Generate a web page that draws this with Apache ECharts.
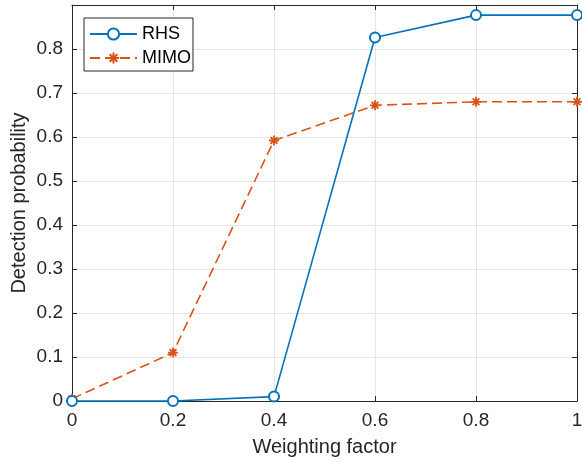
<!DOCTYPE html>
<html><head><meta charset="utf-8">
<script src="https://cdn.jsdelivr.net/npm/echarts@6/dist/echarts.min.js"></script>
<style>html,body{margin:0;padding:0;background:#fff}#c{width:582px;height:461px}</style>
</head><body><div id="c"></div>
<script>
const xValues = [0, 0.2, 0.4, 0.6, 0.8, 1];
const rhs = [0, 0, 0.01, 0.826, 0.877, 0.877];
const mimo = [0.005, 0.11, 0.592, 0.672, 0.680, 0.680];
const xTicks = [0, 0.2, 0.4, 0.6, 0.8, 1];
const yTicks = [0, 0.1, 0.2, 0.3, 0.4, 0.5, 0.6, 0.7, 0.8];

const font = '"Liberation Sans", Arial, Helvetica, sans-serif';
const axisCol = '#262626';
const asterisk = 'path://M0 5 L10 5 M5 0 L5 10 M1.6 1.6 L8.4 8.4 M8.4 1.6 L1.6 8.4';

const chart = echarts.init(document.getElementById('c'), null, {renderer: 'canvas'});
const fmtX = v => (Math.abs(v) < 1e-9 ? '0' : (Math.abs(v - 1) < 1e-9 ? '1' : String(+v.toFixed(1))));
const fmtY = v => (v > 0.85 ? '' : (Math.abs(v) < 1e-9 ? '0' : String(+v.toFixed(1))));
const tick = {show: true, inside: true, length: 5, lineStyle: {color: axisCol}};
const line = {show: true, onZero: false, lineStyle: {color: axisCol, width: 1}};
chart.setOption({
  animation: false,
  grid: {left: 72, right: 5, top: 5, bottom: 60, show: false, containLabel: false, outerBoundsMode: 'none'},
  legend: {
    orient: 'vertical', left: 84, top: 18,
    padding: [7, 2, 4, 5], itemGap: 6, itemWidth: 47, itemHeight: 14,
    borderColor: axisCol, borderWidth: 1, backgroundColor: '#fff', borderRadius: 0,
    textStyle: {fontFamily: font, fontSize: 18, lineHeight: 16, color: '#000', padding: [0,0,0,0]},
    data: ['RHS', 'MIMO']
  },
  xAxis: [{
    type: 'value', min: 0, max: 1, interval: 0.2,
    name: 'Weighting factor', nameLocation: 'middle', nameGap: 36, nameMoveOverlap: false,
    nameTextStyle: {fontFamily: font, fontSize: 20, color: '#262626'},
    axisLine: line, axisTick: tick,
    axisLabel: {fontFamily: font, fontSize: 19, color: '#262626', margin: 10, formatter: fmtX},
    splitLine: {show: true, lineStyle: {color: '#e6e6e6', width: 1}}
  }, {
    type: 'value', min: 0, max: 1, interval: 0.2, position: 'top',
    axisLine: line, axisTick: tick,
    axisLabel: {show: false}, splitLine: {show: false}
  }],
  yAxis: [{
    type: 'value', min: 0, max: 0.9, interval: 0.1,
    name: 'Detection probability', nameLocation: 'middle', nameGap: 43, nameMoveOverlap: false,
    nameTextStyle: {fontFamily: font, fontSize: 20, color: '#262626'},
    axisLine: line, axisTick: tick,
    axisLabel: {fontFamily: font, fontSize: 19, color: '#262626', margin: 9, formatter: fmtY},
    splitLine: {show: true, lineStyle: {color: '#e6e6e6', width: 1}}
  }, {
    type: 'value', min: 0, max: 0.9, interval: 0.1, position: 'right',
    axisLine: line, axisTick: tick,
    axisLabel: {show: false}, splitLine: {show: false}
  }],
  series: [{
    name: 'RHS', type: 'line',
    data: xValues.map((x, i) => [x, rhs[i]]),
    symbol: 'emptyCircle', symbolSize: 10, showAllSymbol: true,
    lineStyle: {color: '#0072BD', width: 1.6},
    itemStyle: {color: '#0072BD', borderColor: '#0072BD', borderWidth: 1.6},
    clip: false, z: 3
  }, {
    name: 'MIMO', type: 'line',
    data: xValues.map((x, i) => [x, mimo[i]]),
    symbol: asterisk, symbolSize: 10, showAllSymbol: true,
    lineStyle: {color: '#D95319', width: 1.6, type: [10, 5]},
    itemStyle: {color: '#D95319', borderColor: '#D95319', borderWidth: 1.8},
    clip: false, z: 2
  }]
});
</script></body></html>
